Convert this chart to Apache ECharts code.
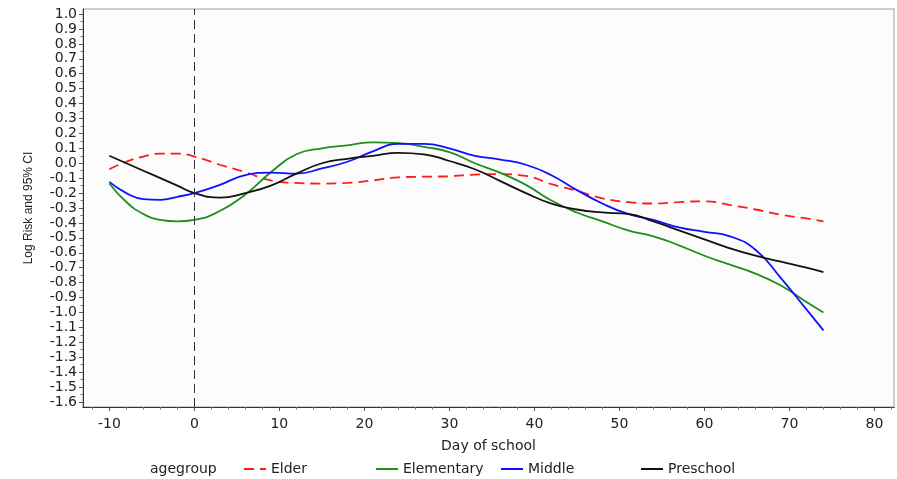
<!DOCTYPE html>
<html lang="en">
  <head>
    <meta charset="UTF-8" />
    <title>agegroup log risk</title>
    <script src="https://cdn.jsdelivr.net/npm/echarts@6/dist/echarts.min.js"></script>
    <style>
      body {
        margin: 0;
        padding: 0;
        background: #fff;
      }

      #main {
        width: 897px;
        height: 479px;
      }
    </style>
  </head>

  <body>
    <div id="main"></div>
    <script>
      // values
      const days = [-10, -8, -6, -4, -2, 0, 3, 6, 9, 12, 15, 18, 21, 24, 27, 30, 33, 36, 39, 42, 45, 48, 51, 54, 57, 60, 63, 66, 69, 72, 74];
      const elder = [-0.04, 0.01, 0.045, 0.065, 0.065, 0.045, -0.01, -0.06, -0.115, -0.132, -0.136, -0.132, -0.115, -0.095, -0.09, -0.087, -0.076, -0.073, -0.085, -0.14, -0.185, -0.235, -0.26, -0.27, -0.26, -0.255, -0.28, -0.31, -0.345, -0.37, -0.39];
      const elementary = [-0.136, -0.26, -0.34, -0.38, -0.39, -0.38, -0.32, -0.21, -0.06, 0.06, 0.1, 0.12, 0.14, 0.135, 0.11, 0.075, 0.0, -0.065, -0.145, -0.25, -0.33, -0.39, -0.45, -0.49, -0.55, -0.62, -0.68, -0.74, -0.82, -0.93, -1.0];
      const middle = [-0.125, -0.2, -0.24, -0.245, -0.225, -0.2, -0.145, -0.08, -0.063, -0.07, -0.035, 0.01, 0.08, 0.13, 0.13, 0.1, 0.05, 0.025, -0.01, -0.08, -0.18, -0.27, -0.34, -0.38, -0.43, -0.46, -0.49, -0.58, -0.77, -0.98, -1.12];
      const preschool = [0.05, 0.0, -0.05, -0.1, -0.15, -0.2, -0.23, -0.2, -0.15, -0.07, 0.0, 0.03, 0.05, 0.07, 0.06, 0.015, -0.04, -0.12, -0.2, -0.27, -0.31, -0.33, -0.34, -0.39, -0.45, -0.51, -0.57, -0.62, -0.66, -0.7, -0.73];

      const groups = ["Elder", "Elementary", "Middle", "Preschool"];
      const xTicks = [-10, 0, 10, 20, 30, 40, 50, 60, 70, 80];
      const yTicks = [-1.6, -1.5, -1.4, -1.3, -1.2, -1.1, -1.0, -0.9, -0.8, -0.7, -0.6, -0.5, -0.4, -0.3, -0.2, -0.1, 0.0, 0.1, 0.2, 0.3, 0.4, 0.5, 0.6, 0.7, 0.8, 0.9, 1.0];

      const xMinor = [];
      for (let d = -12; d <= 82; d += 2) if (d % 10 !== 0) xMinor.push(d);
      const yMinor = yTicks.slice(0, -1).map((v) => Math.round(v * 100 + 5) / 100);

      const font = "DejaVu Sans";
      const xRange = { min: -13.1, max: 82.3 };
      const yRange = { min: -1.634, max: 1.034 };

      const seriesData = [elder, elementary, middle, preschool];
      const colors = ["#ff1a1a", "#1c8f1c", "#1010ff", "#111111"];

      const chartDom = document.getElementById("main");
      const myChart = echarts.init(chartDom);

      const option = {
        animation: false,
        backgroundColor: "#ffffff",
        grid: {
          left: 83,
          right: 3,
          top: 9,
          bottom: 72,
          show: true,
          backgroundColor: "#fcfcfc",
          borderColor: "#bdbdbd",
          borderWidth: 1.5,
        },
        xAxis: [
          {
            type: "value",
            ...xRange,
            name: "Day of school",
            nameLocation: "middle",
            nameGap: 32,
            nameTextStyle: { fontFamily: font, fontSize: 14, color: "#222" },
            axisLine: { onZero: false, lineStyle: { color: "#333", width: 1 } },
            axisTick: { customValues: xTicks, length: 4, lineStyle: { color: "#555" } },
            axisLabel: {
              customValues: xTicks,
              margin: 10,
              fontFamily: font,
              fontSize: 14,
              color: "#222",
            },
            splitLine: { show: false },
          },
          {
            type: "value",
            ...xRange,
            position: "bottom",
            axisLine: { show: false, onZero: false },
            axisTick: { customValues: xMinor, length: 2.5, lineStyle: { color: "#777" } },
            axisLabel: { show: false },
            splitLine: { show: false },
          },
        ],
        yAxis: [
          {
            type: "value",
            ...yRange,
            name: "Log Risk and 95% CI",
            nameLocation: "middle",
            nameGap: 48,
            nameTextStyle: { fontFamily: "Liberation Sans", fontSize: 12, color: "#222" },
            axisLine: { show: true, onZero: false, lineStyle: { color: "#333", width: 1 } },
            axisTick: { show: true, customValues: yTicks, length: 4, lineStyle: { color: "#555" } },
            axisLabel: {
              customValues: yTicks,
              margin: 6,
              fontFamily: font,
              fontSize: 14,
              color: "#222",
              formatter: (v) => v.toFixed(1),
            },
            splitLine: { show: false },
          },
          {
            type: "value",
            ...yRange,
            position: "left",
            axisLine: { show: false, onZero: false },
            axisTick: { show: true, customValues: yMinor, length: 2.5, lineStyle: { color: "#777" } },
            axisLabel: { show: false },
            splitLine: { show: false },
          },
        ],
        legend: groups.map((name, i) => ({
          data: [name],
          left: [243, 375, 500, 640][i],
          top: 462,
          padding: 0,
          itemWidth: 22,
          itemHeight: 14,
          itemGap: 5,
          itemStyle: { opacity: 0 },
          textStyle: { fontFamily: font, fontSize: 14, color: "#222" },
        })),
        graphic: [
          {
            type: "text",
            left: 150,
            top: 462,
            style: { text: "agegroup", font: "14px 'DejaVu Sans'", fill: "#222" },
          },
        ],
        series: groups.map((name, i) => ({
          name: name,
          type: "line",
          smooth: 0.5,
          symbol: "none",
          color: colors[i],
          lineStyle: {
            width: 1.8,
            color: colors[i],
            type: i === 0 ? [10, 6] : "solid",
          },
          data: days.map((d, k) => [d, seriesData[i][k]]),
          markLine:
            i === 0
              ? {
                  silent: true,
                  symbol: ["none", "none"],
                  label: { show: false },
                  lineStyle: { color: "#333", type: [9, 5], width: 1 },
                  data: [{ xAxis: 0 }],
                }
              : undefined,
        })),
      };

      myChart.setOption(option);
    </script>
  </body>
</html>
